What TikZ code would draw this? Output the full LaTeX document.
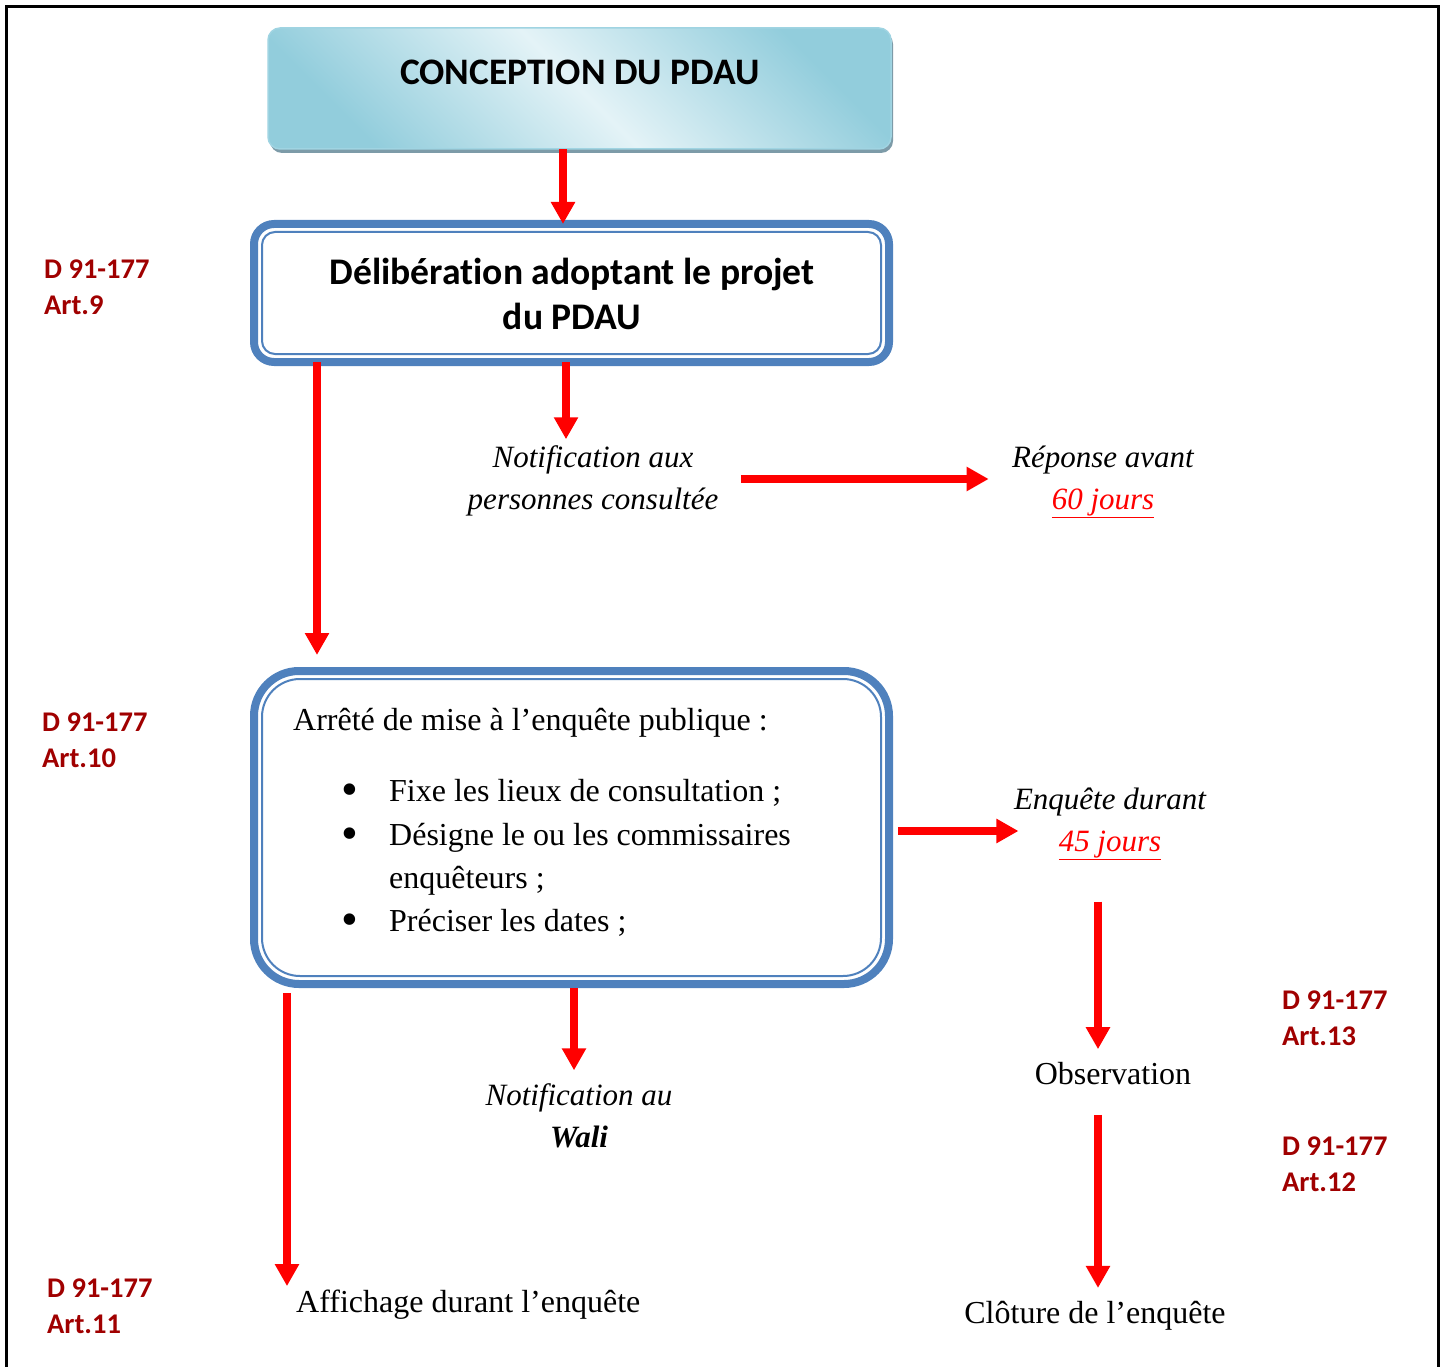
\documentclass[tikz,border=0pt]{standalone}
\usepackage{fontspec}
\setmainfont{Liberation Serif}
\newfontfamily\carl[Ligatures=NoCommon]{Carlito}
\usetikzlibrary{arrows.meta,calc,shadows}
\definecolor{arrred}{RGB}{255,0,0}
\definecolor{refred}{RGB}{160,0,0}
\definecolor{boxblue}{RGB}{79,129,189}
\definecolor{aquad}{RGB}{146,205,220}
\definecolor{aqual}{RGB}{228,243,247}
\definecolor{aquaedge}{RGB}{160,212,226}
\definecolor{shadowc}{RGB}{125,155,168}
\newcommand{\bigbul}{\raisebox{-4.5pt}{\scalebox{1.5}{\textbullet}}}
\begin{document}
\begin{tikzpicture}[x=1pt,y=-1pt,
  arr/.style={draw=arrred, line width=8pt, -{Triangle[width=23pt,length=22pt]}},
  refnote/.style={text=refred, font=\carl\bfseries\fontsize{28.5}{36}\selectfont, align=left, anchor=north west, inner sep=0pt},
  bluebox/.style={draw=boxblue, line width=8pt, outer sep=0pt, inner sep=0pt, fill=white},
  innerline/.style={draw=boxblue, line width=2pt},
  boldtitle/.style={font=\carl\bfseries\fontsize{37.6}{45}\selectfont, align=center, inner sep=0pt},
  itext/.style={font=\itshape\fontsize{31}{42}\selectfont, align=center},
  rtext/.style={font=\fontsize{32}{43}\selectfont, align=left}
]
\useasboundingbox (0,0) rectangle (1446,1367);
% frame
\draw[line width=2.5pt] (6.5,1367) -- (6.5,6.5) -- (1438.5,6.5) -- (1438.5,1367);

% top box
\node (top) [rounded corners=12pt, minimum width=623pt, minimum height=121pt, outer sep=0pt,
  left color=aquad, right color=aquad, middle color=aqual, shading angle=-45,
  draw=aquaedge, line width=1.5pt,
  drop shadow={shadow xshift=2pt, shadow yshift=-4pt, fill=shadowc, opacity=1}] at (579.5,88.5) {};
\node (toptext) [boldtitle, font=\carl\bfseries\fontsize{37.4}{45}\selectfont] at (580,72) {CONCEPTION DU PDAU};

% deliberation box
\node (delib) [bluebox, rounded corners=20pt, minimum width=635pt, minimum height=138pt] at (571.5,293) {};
\draw[innerline, rounded corners=13pt] ([shift={(8,8)}]delib.north west) rectangle ([shift={(-8,-8)}]delib.south east);
\node (delibtext) [boldtitle] at (572,293.5) {Délibération adoptant le projet\\du PDAU};

% arrete box
\node (arrete) [bluebox, rounded corners=45pt, minimum width=635pt, minimum height=313pt] at (571.5,827.5) {};
\draw[innerline, rounded corners=38pt] ([shift={(8,8)}]arrete.north west) rectangle ([shift={(-8,-8)}]arrete.south east);
\node (arretetext) [rtext, anchor=north west, inner sep=0pt] at (293,708)
 {Arrêté de mise à l’enquête publique :\\[28pt]
  \hspace*{48pt}\makebox[48pt][l]{\bigbul}Fixe les lieux de consultation ;\\[1pt]
  \hspace*{48pt}\makebox[48pt][l]{\bigbul}Désigne le ou les commissaires\\
  \hspace*{96pt}enquêteurs ;\\
  \hspace*{48pt}\makebox[48pt][l]{\bigbul}Préciser les dates ;};

% text nodes
\node (notif1) [itext] at (593,481) {Notification aux\\personnes consultée};
\node (rep) [itext] at (1103,482) {Réponse avant\\\textcolor{arrred}{\underline{60 jours}}};
\node (enq) [itext] at (1110,824) {Enquête durant\\\textcolor{arrred}{\underline{45 jours}}};
\node (obs) [rtext] at (1113,1074) {Observation};
\node (clot) [rtext] at (1095,1316) {Clôture de l’enquête};
\node (wali) [itext] at (579,1116) {Notification au\\\textbf{Wali}};
\node (aff) [rtext, anchor=west, inner sep=0pt] at (296,1305) {Affichage durant l’enquête};

% references
\node (r9) [refnote] at (44,260) {D 91-177\\Art.9};
\node (r10) [refnote] at (42,713) {D 91-177\\Art.10};
\node (r11) [refnote] at (47,1279) {D 91-177\\Art.11};
\node (r13) [refnote] at (1282,991) {D 91-177\\Art.13};
\node (r12) [refnote] at (1282,1137) {D 91-177\\Art.12};

% connectors
\coordinate (e1) at (317,655);
\draw[arr] ([xshift=-16.5pt]top.south) -- ([xshift=-16.5pt]top.south |- delib.north);
\draw[arr, shorten >=3pt] ([xshift=-5.5pt]delib.south) -- ([xshift=-5.5pt]delib.south |- notif1.north);
\draw[arr] ([xshift=-254.5pt]delib.south) -- (e1);
\draw[arr] ([xshift=19pt,yshift=2pt]notif1.east) -- ([xshift=-20pt,yshift=2pt]notif1.east -| rep.west);
\draw[arr] ([xshift=9pt,yshift=-3.5pt]arrete.east) -- ([xshift=8pt,yshift=-3.5pt]arrete.east -| enq.west);
\draw[arr, shorten <=38pt, shorten >=10pt] ([xshift=-12pt]enq.south) -- ([xshift=-12pt]enq.south |- obs.north);
\draw[arr, shorten <=26pt, shorten >=10pt] ([xshift=-15pt]obs.south) -- ([xshift=-15pt]obs.south |- clot.north);
\draw[arr, shorten <=4pt, shorten >=10pt] ([xshift=2.5pt]arrete.south) -- ([xshift=2.5pt]arrete.south |- wali.north);
\draw[arr, shorten <=9pt, shorten >=4pt] ([xshift=-284.5pt]arrete.south) -- ([xshift=-284.5pt]arrete.south |- aff.north);
\end{tikzpicture}
\end{document}
